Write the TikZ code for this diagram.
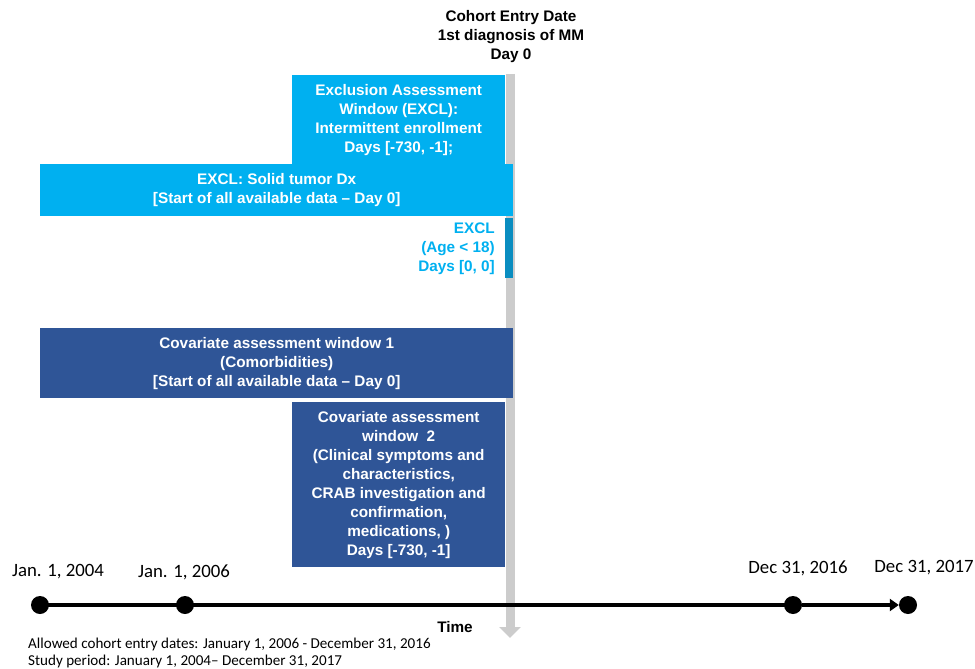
\documentclass[tikz,border=0pt]{standalone}
\usepackage{fontspec}
\setmainfont{Liberation Sans}
\newfontfamily\calibri{Carlito}
\usepackage{xcolor}
\usetikzlibrary{arrows.meta,positioning}

\definecolor{exclblue}{HTML}{00B0F0}
\definecolor{covblue}{HTML}{2F5597}
\definecolor{agebar}{HTML}{0A8DC0}
\definecolor{daygray}{HTML}{CCCCCC}

\begin{document}
\begin{tikzpicture}[
  x=1pt,y=-1pt,
  boxfont/.style={font=\fontsize{15.3}{19}\selectfont\bfseries}, % bold box text
  excl box/.style={boxfont,fill=exclblue,text=white,align=center,inner sep=0pt,anchor=north west}, % exclusion windows
  cov box/.style={boxfont,fill=covblue,text=white,align=center,inner sep=0pt,anchor=north west}, % covariate windows
  dot/.style={circle,fill=black,inner sep=0pt,minimum size=18pt}, % timeline points
  date label/.style={font=\calibri\fontsize{18.8}{22}\selectfont}, % dates above the timeline
  note/.style={font=\calibri\fontsize{15.1}{17}\selectfont,anchor=west,inner sep=0pt}
  ]

  \useasboundingbox (0,0) rectangle (975,669);

  % day 0 bar
  \coordinate (day0 top) at (510,74);
  \coordinate (day0 end) at (510,638);
  \draw[daygray,line width=9pt,-{Triangle[width=21pt,length=11pt]}] (day0 top) -- (day0 end);

  \node[boxfont,align=center] (entry) at (511,37) {Cohort Entry Date\\1st diagnosis of MM\\Day 0};

  % exclusion windows
  \node[excl box,minimum width=213pt,minimum height=89pt] (enroll) at (292,75)
    {Exclusion Assessment\\Window (EXCL):\\Intermittent enrollment\\Days [-730, -1];};
  \node[excl box,minimum width=473pt,minimum height=52pt] (tumor) at (40,164)
    {EXCL: Solid tumor Dx\\{[Start of all available data – Day 0]}};
  \fill[agebar] (505,218) rectangle (513,278);
  \node[boxfont,text=exclblue,align=right,anchor=north east,inner sep=0pt] (age) at (495,223)
    {EXCL\\(Age < 18)\\Days [0, 0]};

  % covariate windows
  \node[cov box,minimum width=473pt,minimum height=70pt] (cov1) at (40,328)
    {Covariate assessment window 1\\(Comorbidities)\\{[Start of all available data – Day 0]}};
  \node[cov box,minimum width=213pt,minimum height=165pt] (cov2) at (292,402)
    {Covariate assessment\\window~~2\\(Clinical symptoms and\\characteristics,\\CRAB investigation and\\confirmation,\\medications, )\\Days [-730, -1]};

  % timeline
  \node[dot] (d2004) at (40,605) {};
  \node[dot] (d2006) at (185,605) {};
  \node[dot] (d2016) at (793,605) {};
  \node[dot] (d2017) at (908,605) {};
  \draw[line width=4pt] (d2004.center) -- (d2016.center);
  \draw[line width=4pt,-{Triangle[width=12pt,length=9pt]}] (d2016) -- (d2017);

  \node[date label] (l2004) at (58,572) {Jan. 1, 2004};
  \node[date label] (l2006) at (184,572) {Jan. 1, 2006};
  \node[date label] (l2016) at (798,568) {Dec 31, 2016};
  \node[date label] (l2017) at (924,568) {Dec 31, 2017};

  \node[boxfont] (time) at (455,627) {Time};

  \node[note] (allowed) at (28,644) {Allowed cohort entry dates: January 1, 2006 - December 31, 2016};
  \node[note] (study) at (28,661) {Study period: January 1, 2004– December 31, 2017};
\end{tikzpicture}
\end{document}
